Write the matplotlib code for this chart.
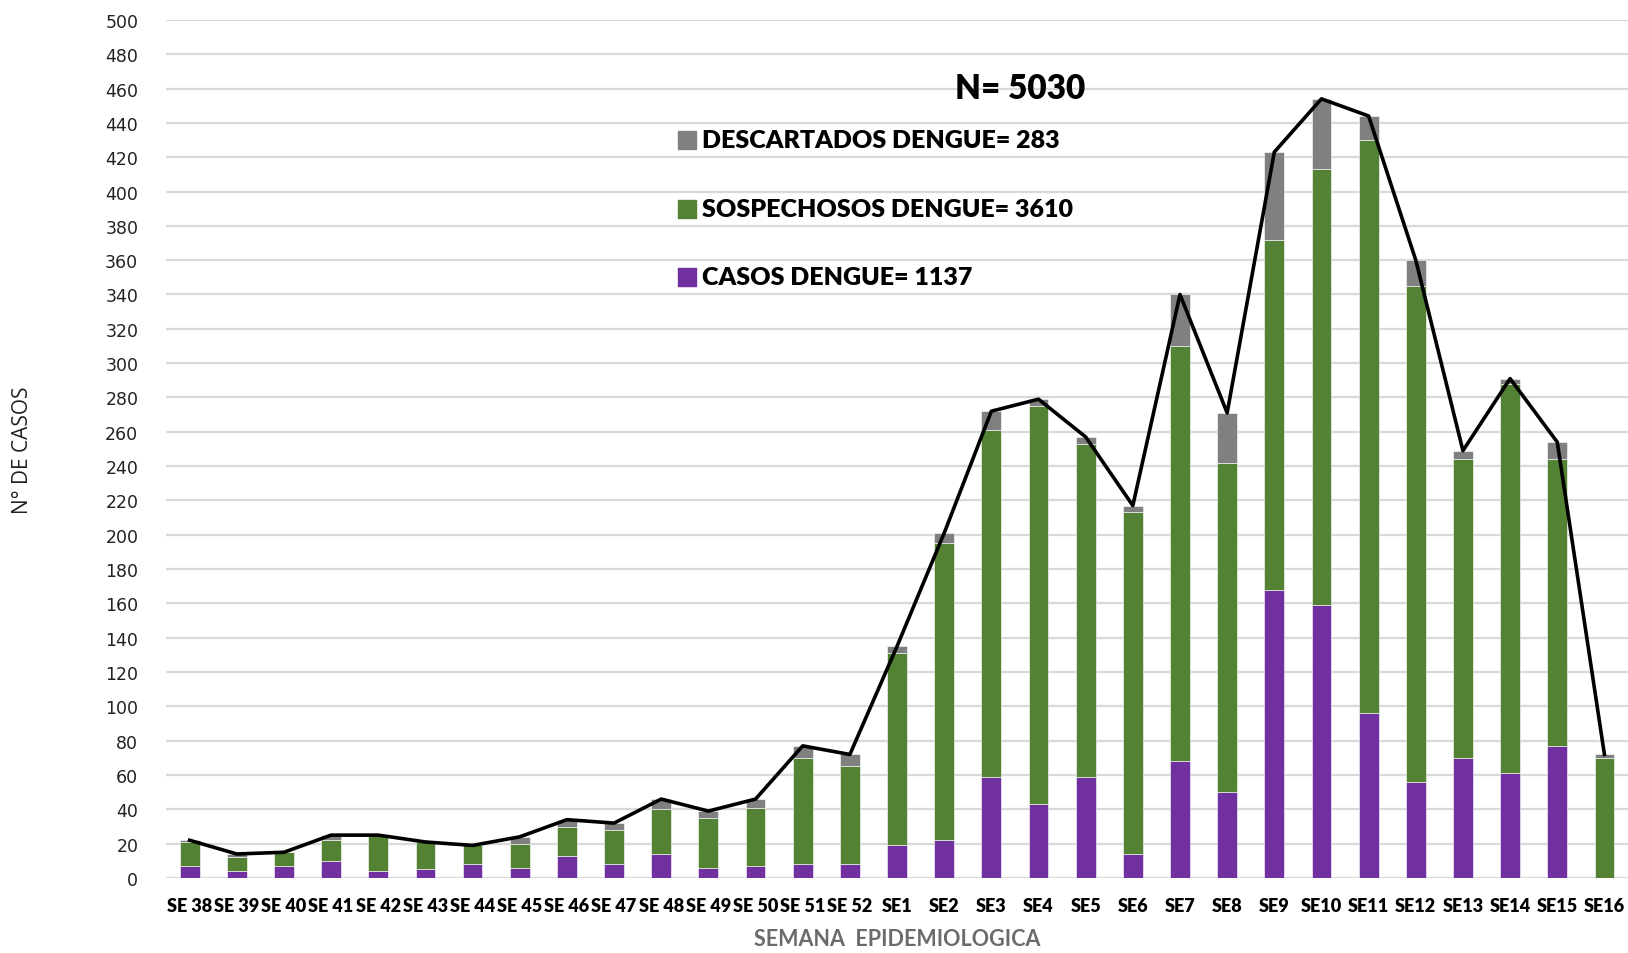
"""
Casos de dengue por semana epidemiologica (barras apiladas + linea de total)
"""
import numpy as np
import matplotlib
matplotlib.use("Agg")
import matplotlib.pyplot as plt

PURPLE = "#7030A0"
GREEN = "#548235"
GRAY = "#808080"
GRID = "#d9d9d9"

weeks = ["SE 38", "SE 39", "SE 40", "SE 41", "SE 42", "SE 43", "SE 44",
         "SE 45", "SE 46", "SE 47", "SE 48", "SE 49", "SE 50", "SE 51",
         "SE 52", "SE1", "SE2", "SE3", "SE4", "SE5", "SE6", "SE7", "SE8",
         "SE9", "SE10", "SE11", "SE12", "SE13", "SE14", "SE15", "SE16"]

casos = [7, 4, 7, 10, 4, 5, 8, 6, 13, 8, 14, 6, 7, 8, 8,
         19, 22, 59, 43, 59, 14, 68, 50, 168, 159, 96, 56, 70, 61, 77, 0]
sospechosos = [14, 8, 8, 12, 21, 16, 11, 14, 17, 20, 26, 29, 34, 62, 57,
               112, 173, 202, 232, 194, 199, 242, 192, 204, 254, 334, 289,
               174, 227, 167, 70]
descartados = [1, 2, 0, 3, 0, 0, 0, 4, 4, 4, 6, 4, 5, 7, 7,
               4, 6, 11, 4, 4, 4, 30, 29, 51, 41, 14, 15, 5, 3, 10, 2]

legend_labels = ["DESCARTADOS DENGUE= 283", "SOSPECHOSOS DENGUE= 3610",
                 "CASOS DENGUE= 1137"]
total_label = "N= 5030"

casos = np.array(casos)
sospechosos = np.array(sospechosos)
descartados = np.array(descartados)
total = casos + sospechosos + descartados
x = np.arange(len(weeks))

fig = plt.figure(figsize=(16.28, 9.54), dpi=100)
ax = fig.add_axes([0.102, 0.0786, 0.898, 0.8995])

ax.set_axisbelow(True)
ax.yaxis.grid(True, color=GRID, linewidth=1.6)
for s in ax.spines.values():
    s.set_visible(False)

w = 0.42
ax.bar(x, casos, w, color=PURPLE, edgecolor="white", linewidth=0.4)
ax.bar(x, sospechosos, w, bottom=casos, color=GREEN,
       edgecolor="white", linewidth=0.4)
ax.bar(x, descartados, w, bottom=casos + sospechosos, color=GRAY,
       edgecolor="white", linewidth=0.4)
ax.plot(x, total, color="black", linewidth=2.6, zorder=5)

ax.set_xlim(-0.5, len(weeks) - 0.5)
ax.set_ylim(0, 500)
ax.set_yticks(np.arange(0, 501, 20))
ax.tick_params(axis="y", length=0, pad=20, labelsize=12.5, labelcolor="#222222")
ax.set_xticks(x)
ax.set_xticklabels(weeks, fontfamily="Lato", fontweight="heavy", fontsize=13)
ax.tick_params(axis="x", length=0, pad=14)

ax.set_ylabel("N° DE CASOS", fontsize=15, color="#222222", labelpad=52,
              fontfamily="Open Sans")
ax.set_xlabel("SEMANA  EPIDEMIOLOGICA", fontsize=15.5, color="#6b6b6b",
              fontweight="bold", fontfamily="Lato", labelpad=10)

# leyenda manual
leg_y = [0.86, 0.78, 0.70]
leg_c = [GRAY, GREEN, PURPLE]
for yy, c, lab in zip(leg_y, leg_c, legend_labels):
    ax.scatter([0.3562], [yy], marker="s", s=150, color=c,
               transform=ax.transAxes, clip_on=False)
    ax.text(0.3665, yy, lab, transform=ax.transAxes, va="center", ha="left",
            fontsize=18, fontweight="heavy", fontfamily="Lato")

ax.text(0.6285, 0.921, total_label, transform=ax.transAxes, va="center",
        ha="right", fontsize=24, fontweight="heavy", fontfamily="Lato")

fig.savefig("out.png", dpi=100)
